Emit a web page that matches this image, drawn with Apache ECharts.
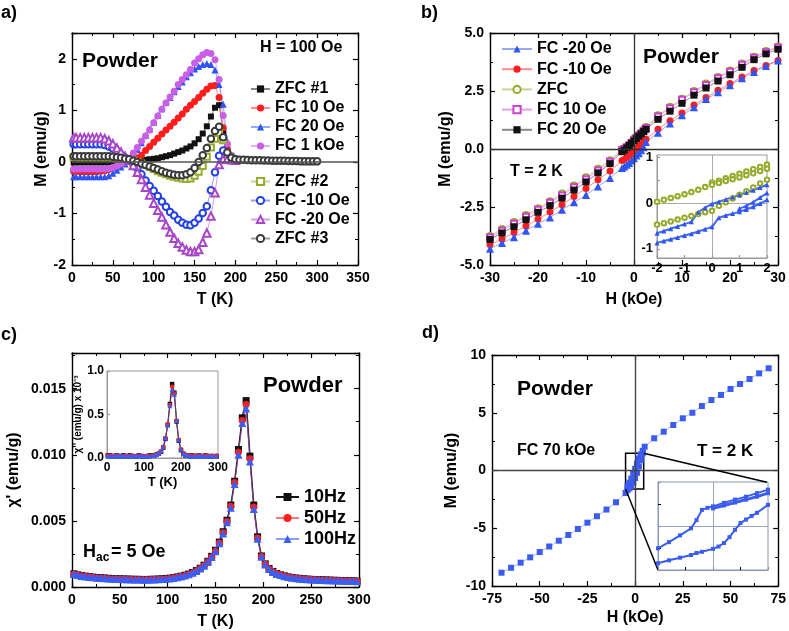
<!DOCTYPE html>
<html><head><meta charset="utf-8">
<script src="https://cdn.jsdelivr.net/npm/echarts@6/dist/echarts.min.js"></script>
<style>html,body{margin:0;padding:0;background:#fff}#c{width:789px;height:631px}</style>
</head><body><div id="c"></div>
<script>
// ---------- Panel a : M vs T ----------
const T_A = [2,5,10,15,20,25,30,35,40,45,50,55,60,65,70,75,80,85,90,95,100,105,110,115,120,125,130,135,140,145,150,155,160,165,170,175,180,185,190,195,200];
const A_ZFC1 = [-0.01,-0.01,-0.01,-0.01,-0.01,-0.01,-0.01,-0.01,-0.01,-0.01,-0.01,-0.01,0.00,0.00,0.01,0.02,0.02,0.03,0.04,0.05,0.06,0.07,0.09,0.11,0.13,0.16,0.19,0.22,0.26,0.30,0.36,0.44,0.55,0.69,0.88,1.05,1.10,0.60,0.28,0.12,0.06];
const A_FC10 = [-0.18,-0.18,-0.19,-0.19,-0.19,-0.19,-0.19,-0.18,-0.17,-0.15,-0.12,-0.08,-0.04,0.00,0.03,0.05,0.08,0.13,0.22,0.30,0.38,0.46,0.54,0.62,0.69,0.77,0.85,0.93,1.02,1.10,1.17,1.25,1.33,1.41,1.47,1.48,1.25,0.66,0.25,0.10,0.05];
const A_FC20 = [-0.29,-0.29,-0.29,-0.29,-0.29,-0.29,-0.29,-0.29,-0.29,-0.27,-0.22,-0.16,-0.10,-0.04,0.03,0.11,0.24,0.37,0.51,0.64,0.77,0.90,1.03,1.15,1.25,1.36,1.46,1.55,1.65,1.73,1.80,1.85,1.89,1.91,1.89,1.78,1.50,1.12,0.40,0.12,0.05];
const A_FC1k = [-0.14,-0.14,-0.14,-0.14,-0.14,-0.14,-0.14,-0.14,-0.14,-0.13,-0.11,-0.08,-0.04,0.00,0.07,0.17,0.28,0.40,0.50,0.62,0.76,0.89,1.02,1.14,1.26,1.37,1.50,1.60,1.69,1.79,1.92,2.00,2.08,2.12,2.10,1.98,1.60,0.90,0.35,0.12,0.05];
const A_ZFC2 = [0.09,0.09,0.09,0.09,0.09,0.09,0.09,0.09,0.09,0.09,0.08,0.07,0.06,0.05,0.04,0.02,0.00,-0.03,-0.06,-0.10,-0.14,-0.18,-0.21,-0.24,-0.27,-0.29,-0.31,-0.32,-0.33,-0.32,-0.27,-0.19,-0.08,0.10,0.28,0.45,0.56,0.42,0.14,0.06,0.04];
const A_FCm10 = [0.34,0.34,0.34,0.34,0.34,0.34,0.34,0.34,0.33,0.30,0.26,0.20,0.14,0.08,0.03,-0.04,-0.13,-0.24,-0.36,-0.47,-0.56,-0.66,-0.77,-0.87,-0.97,-1.04,-1.12,-1.18,-1.22,-1.23,-1.18,-1.10,-0.99,-0.86,-0.55,-0.20,0.12,0.22,0.10,0.05,0.03];
const A_FCm20 = [0.47,0.47,0.47,0.47,0.47,0.47,0.47,0.47,0.45,0.41,0.35,0.27,0.19,0.11,0.03,-0.07,-0.20,-0.34,-0.49,-0.64,-0.80,-0.94,-1.07,-1.22,-1.36,-1.48,-1.58,-1.65,-1.71,-1.74,-1.74,-1.70,-1.56,-1.38,-1.05,-0.60,-0.05,0.05,0.05,0.04,0.03];
const A_ZFC3 = [0.11,0.11,0.11,0.11,0.11,0.11,0.11,0.11,0.11,0.11,0.10,0.09,0.08,0.06,0.05,0.02,0.00,-0.03,-0.06,-0.09,-0.12,-0.15,-0.18,-0.21,-0.23,-0.25,-0.26,-0.26,-0.24,-0.20,-0.12,0.00,0.13,0.27,0.45,0.60,0.68,0.48,0.18,0.08,0.05];
const T_A_TAIL = [205,210,215,220,225,230,235,240,245,250,255,260,265,270,275,280,285,290,295,300];
const A_ZFC3_TAIL = [0.04,0.04,0.035,0.03,0.03,0.03,0.025,0.025,0.02,0.02,0.02,0.02,0.015,0.015,0.015,0.01,0.01,0.01,0.01,0.01];

// ---------- Panel b : M vs H loops ----------
const H_B = [-30,-27.5,-25,-22.5,-20,-17.5,-15,-12.5,-10,-7.5,-5,-2.5,-2,-1.5,-1,-0.5,0,0.5,1,1.5,2,2.5,5,7.5,10,12.5,15,17.5,20,22.5,25,27.5,30];
const B_FCm20 = [-4.30,-4.05,-3.80,-3.52,-3.22,-2.95,-2.62,-2.30,-1.98,-1.62,-1.25,-0.82,-0.75,-0.68,-0.60,-0.50,-0.40,-0.28,-0.18,-0.05,0.08,0.30,0.70,1.10,1.45,1.80,2.15,2.45,2.75,3.05,3.32,3.58,3.82];
const B_FCm10 = [-4.12,-3.88,-3.60,-3.32,-3.02,-2.72,-2.40,-2.05,-1.70,-1.33,-0.95,-0.50,-0.45,-0.37,-0.28,-0.20,-0.10,0.00,0.10,0.20,0.30,0.42,0.85,1.22,1.55,1.90,2.22,2.53,2.82,3.10,3.38,3.60,3.82];
const B_ZFC = [-3.75,-3.45,-3.15,-2.85,-2.55,-2.25,-1.92,-1.57,-1.22,-0.85,-0.48,0.00,0.04,0.12,0.20,0.30,0.45,0.52,0.62,0.72,0.84,0.95,1.45,1.82,2.17,2.50,2.82,3.10,3.38,3.68,3.98,4.22,4.42];
const B_FC10 = [-3.82,-3.52,-3.22,-2.92,-2.62,-2.32,-2.00,-1.65,-1.30,-0.93,-0.55,-0.05,0.00,0.08,0.16,0.26,0.38,0.47,0.57,0.67,0.78,0.90,1.40,1.76,2.12,2.45,2.76,3.05,3.33,3.63,3.93,4.17,4.38];
const B_FC20 = [-3.90,-3.62,-3.35,-3.05,-2.73,-2.44,-2.12,-1.77,-1.42,-1.03,-0.63,-0.12,-0.05,0.05,0.15,0.25,0.35,0.45,0.55,0.65,0.75,0.85,1.28,1.63,1.97,2.32,2.63,2.93,3.20,3.52,3.85,4.10,4.30];
// inset b
const H_IN = [-2,-1.75,-1.5,-1.25,-1,-0.75,-0.5,-0.25,0,0.25,0.5,0.75,1,1.25,1.5,1.75,2];
const H_IN_POS = [0,0.25,0.5,0.75,1,1.25,1.5,1.75,2];
const H_IN_MID = [1,1.25,1.5,1.75,2];
const BI_ZFC_TOP = [0.03,0.07,0.11,0.15,0.19,0.24,0.29,0.35,0.45,0.49,0.54,0.59,0.64,0.69,0.74,0.79,0.84];
const BI_ZFC_MID = [0.40,0.44,0.48,0.52,0.56,0.61,0.65,0.70,0.75];
const BI_ZFC_LOW = [-0.47,-0.44,-0.40,-0.36,-0.32,-0.28,-0.24,-0.20,-0.17,-0.06,0.02,0.10,0.18,0.26,0.34,0.43,0.51];
const BI_FC_TOP = [-0.66,-0.61,-0.56,-0.51,-0.46,-0.41,-0.20,-0.10,-0.02,0.03,0.08,0.13,0.18,0.23,0.28,0.34,0.40];
const BI_FC_MID = [-0.12,-0.06,0.02,0.12,0.22];
const BI_FC_LOW = [-0.87,-0.83,-0.79,-0.75,-0.71,-0.67,-0.62,-0.57,-0.52,-0.32,-0.27,-0.23,-0.19,-0.14,-0.08,-0.01,0.07];

// ---------- Panel c : chi' vs T ----------
const T_C = [2,6,10,14,18,22,26,30,34,38,42,46,50,54,58,62,66,70,74,78,82,86,90,94,98,102,106,110,114,118,122,126,130,134,138,142,146,150,154,158,162,166,170,174,178,182,186,190,194,198,202,206,210,214,218,222,226,230,234,238,242,246,250,254,258,262,266,270,274,278,282,286,290,294,298];
const C_10 = [0.00100,0.00092,0.00086,0.00082,0.00078,0.00075,0.00072,0.00070,0.00068,0.00066,
0.00064,0.00063,0.00062,0.00061,0.00060,0.00059,0.00058,0.00058,0.00057,0.00057,
0.00058,0.00059,0.00060,0.00062,0.00064,0.00067,0.00071,0.00076,0.00082,0.00089,
0.00098,0.00110,0.00124,0.00142,0.00165,0.00195,0.00232,0.00278,0.00340,0.00418,
0.00505,0.00620,0.00800,0.01040,0.01280,0.01410,0.00990,0.00620,0.00380,0.00235,
0.00175,0.00140,0.00118,0.00102,0.00092,0.00084,0.00077,0.00072,0.00068,0.00065,
0.00062,0.00060,0.00058,0.00056,0.00055,0.00054,0.00053,0.00052,0.00051,0.00050,
0.00049,0.00048,0.00047,0.00046,0.00045];
const C_50 = [0.00097,0.00089,0.00083,0.00079,0.00075,0.00072,0.00069,0.00067,0.00065,0.00063,
0.00061,0.00060,0.00059,0.00058,0.00057,0.00056,0.00055,0.00055,0.00054,0.00054,
0.00055,0.00056,0.00057,0.00059,0.00061,0.00064,0.00068,0.00073,0.00079,0.00086,
0.00095,0.00106,0.00120,0.00138,0.00160,0.00190,0.00226,0.00272,0.00332,0.00410,
0.00495,0.00610,0.00790,0.01020,0.01260,0.01380,0.00970,0.00605,0.00370,0.00230,
0.00172,0.00137,0.00115,0.00100,0.00090,0.00082,0.00075,0.00070,0.00066,0.00063,
0.00060,0.00058,0.00056,0.00054,0.00053,0.00052,0.00051,0.00050,0.00049,0.00048,
0.00047,0.00046,0.00045,0.00044,0.00043];
const C_100 = [0.00098,0.00090,0.00084,0.00080,0.00076,0.00073,0.00070,0.00068,0.00066,0.00064,
0.00062,0.00061,0.00060,0.00059,0.00058,0.00057,0.00056,0.00056,0.00055,0.00055,
0.00056,0.00057,0.00058,0.00060,0.00062,0.00065,0.00069,0.00074,0.00080,0.00087,
0.00096,0.00107,0.00121,0.00139,0.00161,0.00190,0.00226,0.00270,0.00330,0.00405,
0.00490,0.00600,0.00780,0.01000,0.01240,0.01350,0.00950,0.00590,0.00365,0.00228,
0.00170,0.00136,0.00114,0.00099,0.00090,0.00082,0.00075,0.00070,0.00066,0.00063,
0.00060,0.00058,0.00056,0.00055,0.00054,0.00053,0.00052,0.00051,0.00050,0.00049,
0.00048,0.00047,0.00046,0.00045,0.00044];
// inset c : chi'' (x 10^-3)
const T_CI = [2,8,14,20,26,32,38,44,50,56,62,68,74,80,86,92,98,104,110,116,122,128,134,140,146,152,158,164,170,176,182,188,194,200,206,212,218,224,230,236,242,248,254,260,266,272,278,284,290,296];
const CI_10 = [0.03,0.03,0.02,0.02,0.03,0.02,0.02,0.03,0.02,0.02,0.03,0.02,0.02,0.02,0.03,0.02,0.02,0.02,0.02,0.03,0.03,0.03,0.04,0.05,0.07,0.12,0.22,0.38,0.62,0.85,0.75,0.42,0.20,0.09,0.05,0.03,0.03,0.02,0.03,0.02,0.02,0.03,0.02,0.02,0.03,0.02,0.02,0.02,0.02,0.02];
const CI_50 = [0.03,0.02,0.03,0.02,0.02,0.03,0.02,0.02,0.03,0.02,0.02,0.03,0.02,0.02,0.02,0.03,0.02,0.02,0.03,0.02,0.03,0.03,0.04,0.05,0.08,0.13,0.23,0.39,0.61,0.82,0.74,0.43,0.21,0.10,0.05,0.04,0.03,0.03,0.02,0.03,0.03,0.02,0.03,0.02,0.03,0.03,0.02,0.03,0.02,0.03];
const CI_100 = [0.02,0.03,0.02,0.02,0.03,0.02,0.03,0.02,0.02,0.03,0.02,0.02,0.03,0.02,0.02,0.02,0.03,0.02,0.02,0.02,0.03,0.03,0.04,0.06,0.08,0.13,0.23,0.38,0.60,0.79,0.73,0.43,0.21,0.10,0.05,0.04,0.03,0.02,0.02,0.02,0.02,0.03,0.02,0.02,0.02,0.02,0.03,0.02,0.02,0.02];

// ---------- Panel d : FC 70 kOe loop ----------
const H_D = [-70,-65,-60,-55,-50,-45,-40,-35,-30,-25,-20,-15,-10,-5];
const M_D = [-8.85,-8.42,-7.98,-7.52,-7.06,-6.58,-6.08,-5.58,-5.06,-4.52,-3.96,-3.38,-2.75,-1.95];
const H_DP = [5,10,15,20,25,30,35,40,45,50,55,60,65,70];
const M_DP = [2.06,2.79,3.36,3.94,4.52,5.00,5.58,6.10,6.54,7.06,7.49,7.92,8.41,8.85];
const H_DC = [-4,-3,-2,-1,0,1,2,3,4];
const M_DC_A = [-1.35,-1.05,-0.70,-0.30,0.15,0.60,1.05,1.40,1.70];
const M_DC_B = [-1.70,-1.55,-1.35,-1.05,-0.65,-0.20,0.35,0.90,1.50];
// inset d
const DI_H_UP = [5,4,3,2,1,0,-0.5,-1,-1.5,-2,-3,-4,-5];
const DI_M_UP = [1.24,1.12,1.00,0.90,0.79,0.67,0.62,0.55,0.20,-0.08,-0.32,-0.55,-0.76];
const DI_H_UP2 = [0,1,2,3,4,5];
const DI_M_UP2 = [0.60,0.70,0.80,0.90,1.00,1.12];
const DI_H_LO = [-5,-4,-3,-2,-1.5,-1,0,0.5,1,1.5,2,2.5,3,3.5,4,5];
const DI_M_LO = [-1.27,-1.17,-1.08,-0.99,-0.92,-0.88,-0.78,-0.70,-0.58,-0.38,-0.13,0.10,0.22,0.34,0.45,0.72];

// ---------- helpers ----------
const FONT = '"Liberation Sans", Arial, Helvetica, sans-serif';
const zip = (xs, ys) => xs.map((x, i) => [x, ys[i]]);
function ax(grid, min, max, interval, pos, o) {
  o = o || {};
  const showLbl = !!o.fmt;
  return {
    type: 'value', gridIndex: grid, min, max, interval, position: pos,
    axisLine: {show: true, onZero: false, lineStyle: {color: o.lineColor || '#000', width: o.lineWidth || 1.4}},
    axisTick: Object.assign({show: true, inside: true, length: o.tickLen || 5, lineStyle: {color: o.lineColor || '#000', width: 1.2}}, o.tickCustom ? {customValues: o.tickCustom} : {}),
    minorTick: {show: o.minor !== false, splitNumber: 2, length: 3, lineStyle: {color: '#000', width: 1}},
    splitLine: {show: false},
    axisLabel: showLbl ? Object.assign({show: true, fontFamily: FONT, fontWeight: 'bold', fontSize: o.fs || 14, color: '#000', margin: o.margin || 6, formatter: o.fmt, showMaxLabel: o.noMax ? false : null}, o.lblCustom ? {customValues: o.lblCustom} : {}) : {show: false},
    name: o.name || '', nameLocation: 'middle', nameGap: o.nameGap || 25,
    nameTextStyle: {fontFamily: FONT, fontWeight: 'bold', fontSize: o.nfs || 16, color: '#000'},
    z: o.z || 0
  };
}
function ser(name, xi, data, sym, size, color, o) {
  o = o || {};
  const empty = sym.indexOf('empty') === 0;
  return {
    type: 'line', name, xAxisIndex: xi, yAxisIndex: xi, data,
    symbol: sym, symbolSize: size, showSymbol: true, showAllSymbol: true,
    itemStyle: Object.assign({color}, empty ? {borderWidth: o.bw || 1.3} : {}),
    lineStyle: {color: o.lineColor || color, width: o.lw || 1, opacity: o.lop != null ? o.lop : 0.5},
    emphasis: {disabled: true}, z: o.z || 2, clip: false, silent: true
  };
}
const intF = v => String(v);
const f1 = v => v.toFixed(1);
const f3 = v => v.toFixed(3);

// axis index map: 0/1 a, 2/3 b, 4 b-inset, 5/6 c, 7 c-inset, 8/9 d, 10 d-inset
const xAxis = [
  ax(0, 0, 350, 50, 'bottom', {fmt: intF, name: 'T (K)', nameGap: 27}),
  ax(0, 0, 350, 50, 'top'),
  ax(1, -30, 30, 10, 'bottom', {fmt: intF, name: 'H (kOe)', nameGap: 27}),
  ax(1, -30, 30, 10, 'top'),
  ax(2, -2, 2, 1, 'bottom', {fmt: intF, fs: 13, margin: 4, lineColor: '#999', lineWidth: 1, tickLen: 3, minor: false, z: 5}),
  ax(3, 0, 300, 50, 'bottom', {fmt: intF, name: 'T (K)', nameGap: 27}),
  ax(3, 0, 300, 50, 'top'),
  ax(4, 0, 300, 100, 'bottom', {fmt: intF, fs: 12, margin: 4, lineColor: '#999', lineWidth: 1, tickLen: 3, minor: false, z: 5, name: 'T (K)', nameGap: 18, nfs: 13}),
  ax(5, -75, 75, 25, 'bottom', {fmt: intF, name: 'H (kOe)', nameGap: 24}),
  ax(5, -75, 75, 25, 'top'),
  ax(6, -5, 5, 5, 'bottom', {lineColor: '#8a95b8', lineWidth: 1, tickLen: 3, z: 5})
];
const yAxis = [
  ax(0, -2, 2.5, 1, 'left', {fmt: intF, noMax: true, name: 'M (emu/g)', nameGap: 20}),
  ax(0, -2, 2.5, 1, 'right'),
  ax(1, -5, 5, 2.5, 'left', {fmt: f1, name: 'M (emu/g)', nameGap: 36}),
  ax(1, -5, 5, 2.5, 'right'),
  ax(2, -1.2, 1.05, null, 'left', {fmt: intF, fs: 13, margin: 4, lineColor: '#999', lineWidth: 1, tickLen: 3, minor: false, z: 5, lblCustom: [-1, 0, 1], tickCustom: [-1, -0.5, 0, 0.5, 1]}),
  ax(3, 0, 0.0177, 0.005, 'left', {fmt: f3, noMax: true, name: "\u03c7' (emu/g)", nameGap: 50}),
  ax(3, 0, 0.0177, 0.005, 'right'),
  ax(4, 0, 1.0, 0.5, 'left', {fmt: f1, fs: 12, margin: 3, lineColor: '#999', lineWidth: 1, tickLen: 3, minor: false, z: 5, name: "\u03c7'' (emu/g) x 10\u207b\u00b3", nameGap: 20, nfs: 10}),
  ax(5, -10, 10, 5, 'left', {fmt: intF, name: 'M (emu/g)', nameGap: 32}),
  ax(5, -10, 10, 5, 'right'),
  ax(6, -1.5, 1.5, 1.5, 'left', {lineColor: '#8a95b8', lineWidth: 1, tickLen: 3, z: 5})
];

const zeroLine = (xi, arr, color, w, z) => ({
  type: 'line', xAxisIndex: xi, yAxisIndex: xi, data: [], z: z || 1, silent: true,
  markLine: {silent: true, symbol: 'none', label: {show: false}, animation: false,
    lineStyle: {color: color || '#444', width: w || 1.4, type: 'solid'}, data: arr}
});

const C_BLK = '#111111', C_RED = '#ff1c1c', C_BLU = '#2f55f2', C_MAG = '#c85fe6',
      C_OLV = '#97aa2a', C_OBL = '#2340e6', C_PUR = '#a845c8', C_GRY = '#3a3a3a',
      C_BMAG = '#d040d0', C_DBL = '#3a5cf0';

const series = [
  // panel a
  zeroLine(0, [{yAxis: 0}], '#555', 1.5),
  ser('ZFC #1', 0, zip(T_A, A_ZFC1), 'rect', 6, C_BLK),
  ser('FC 10 Oe', 0, zip(T_A, A_FC10), 'circle', 7, C_RED),
  ser('FC 20 Oe', 0, zip(T_A, A_FC20), 'triangle', 7, C_BLU),
  ser('FC 1 kOe', 0, zip(T_A, A_FC1k), 'circle', 7, C_MAG),
  ser('ZFC #2', 0, zip(T_A, A_ZFC2), 'emptyRect', 6, C_OLV),
  ser('FC -10 Oe', 0, zip(T_A, A_FCm10), 'emptyCircle', 6.5, C_OBL),
  ser('FC -20 Oe', 0, zip(T_A, A_FCm20), 'emptyTriangle', 7.5, C_PUR),
  ser('ZFC #3', 0, zip(T_A, A_ZFC3).concat(zip(T_A_TAIL, A_ZFC3_TAIL)), 'emptyCircle', 6.5, C_GRY),
  // panel b
  zeroLine(2, [{yAxis: 0}, {xAxis: 0}], '#333', 1.3),
  ser('ZFC', 2, zip(H_B, B_ZFC), 'emptyCircle', 6, C_OLV),
  ser('FC 10 Oe ', 2, zip(H_B, B_FC10), 'emptyRect', 6, C_BMAG),
  ser('FC -10 Oe ', 2, zip(H_B, B_FCm10), 'circle', 7, C_RED),
  ser('FC -20 Oe ', 2, zip(H_B, B_FCm20), 'triangle', 8, C_BLU),
  ser('FC 20 Oe ', 2, zip(H_B, B_FC20), 'rect', 7, C_BLK),
  // inset b
  zeroLine(4, [{yAxis: 0}, {xAxis: 0}], '#aaa', 1, 6),
  ser('', 4, zip(H_IN, BI_ZFC_TOP), 'emptyCircle', 4.5, C_OLV, {z: 7, bw: 1}),
  ser('', 4, zip(H_IN_POS, BI_ZFC_MID), 'emptyCircle', 4.5, C_OLV, {z: 7, bw: 1}),
  ser('', 4, zip(H_IN, BI_ZFC_LOW), 'emptyCircle', 4.5, C_OLV, {z: 7, bw: 1}),
  ser('', 4, zip(H_IN, BI_FC_TOP), 'triangle', 5, C_BLU, {z: 7, lw: 2, lop: 0.9}),
  ser('', 4, zip(H_IN_MID, BI_FC_MID), 'triangle', 5, C_BLU, {z: 7, lw: 2, lop: 0.9}),
  ser('', 4, zip(H_IN, BI_FC_LOW), 'triangle', 5, C_BLU, {z: 7, lw: 2, lop: 0.9}),
  // panel c
  ser('10Hz', 5, zip(T_C, C_10), 'rect', 7, C_BLK, {lw: 1.5, lop: 1}),
  ser('50Hz', 5, zip(T_C, C_50), 'circle', 7, C_RED, {lw: 1, lop: 0.6}),
  ser('100Hz', 5, zip(T_C, C_100), 'triangle', 8, '#3d5ef2', {lw: 1, lop: 0.6}),
  // inset c
  ser('', 7, zip(T_CI, CI_10), 'rect', 4.5, C_BLK, {z: 7, lw: 1.2, lop: 1}),
  ser('', 7, zip(T_CI, CI_50), 'circle', 4.5, C_RED, {z: 7}),
  ser('', 7, zip(T_CI, CI_100), 'triangle', 5, '#3d5ef2', {z: 7}),
  // panel d
  zeroLine(8, [{yAxis: 0}, {xAxis: 0}], '#444', 1.4),
  ser('', 8, zip(H_D, M_D).concat(zip(H_DC, M_DC_A), zip(H_DP, M_DP)), 'rect', 6, C_DBL, {lop: 0.45}),
  ser('', 8, zip(H_DC, M_DC_B), 'rect', 6, C_DBL, {lop: 0.45}),
  {
    type: 'line', xAxisIndex: 8, yAxisIndex: 8, data: [], z: 4, silent: true,
    markArea: {silent: true, itemStyle: {color: 'rgba(0,0,0,0)', borderColor: '#000', borderWidth: 1.5},
      data: [[{coord: [-5, 1.5]}, {coord: [4.5, -1.6]}]]},
    markLine: {silent: true, symbol: 'none', label: {show: false}, lineStyle: {color: '#000', width: 1.5, type: 'solid'},
      data: [[{coord: [4.5, 1.5]}, {coord: [69.1, -1.02]}], [{coord: [-5, -1.6]}, {coord: [12, -8.61]}]]}
  },
  // inset d
  zeroLine(10, [{yAxis: 0}, {xAxis: 0}], '#9aa3c4', 1, 6),
  ser('', 10, zip(DI_H_UP, DI_M_UP), 'rect', 4, C_DBL, {z: 7, lw: 2, lop: 1}),
  ser('', 10, zip(DI_H_UP2, DI_M_UP2), 'rect', 4, C_DBL, {z: 7, lw: 3, lop: 1}),
  ser('', 10, zip(DI_H_LO, DI_M_LO), 'rect', 4, C_DBL, {z: 7, lw: 2, lop: 1})
];

const legText = {fontFamily: FONT, fontWeight: 'bold', fontSize: 16, color: '#000'};
const legend = [
  {data: ['ZFC #1', 'FC 10 Oe', 'FC 20 Oe', 'FC 1 kOe'], orient: 'vertical', left: 250, top: 81, itemWidth: 19, itemHeight: 9, itemGap: 3, padding: 0, selectedMode: false, textStyle: legText},
  {data: ['ZFC #2', 'FC -10 Oe', 'FC -20 Oe', 'ZFC #3'], orient: 'vertical', left: 250, top: 173.5, itemWidth: 19, itemHeight: 9, itemGap: 3, padding: 0, selectedMode: false, textStyle: legText},
  {data: ['FC -20 Oe ', 'FC -10 Oe ', 'ZFC', 'FC 10 Oe ', 'FC 20 Oe '], orient: 'vertical', left: 501, top: 41, itemWidth: 30, itemHeight: 9, itemGap: 4.2, padding: 0, selectedMode: false, textStyle: legText},
  {data: ['10Hz', '50Hz', '100Hz'], orient: 'vertical', left: 275, top: 488, itemWidth: 23, itemHeight: 10, itemGap: 3, padding: 0, selectedMode: false, textStyle: Object.assign({}, legText, {fontSize: 18})}
];

function txt(x, y, text, size) {
  return {type: 'text', x, y, z: 100, silent: true,
    style: {text, fontFamily: FONT, fontWeight: 'bold', fontSize: size, fill: '#000', align: 'left', verticalAlign: 'middle'}};
}
const graphic = [
  txt(1, 13, 'a)', 18), txt(82, 61, 'Powder', 21), txt(260, 48, 'H = 100 Oe', 16),
  txt(421, 13, 'b)', 18), txt(643, 57, 'Powder', 21), txt(510, 172, 'T = 2 K', 16),
  txt(1, 335, 'c)', 18), txt(263, 386, 'Powder', 22), txt(83, 552, 'H', 18), txt(96, 558, 'ac', 12), txt(111, 552, '= 5 Oe', 18),
  txt(422, 333, 'd)', 18), txt(517, 389, 'Powder', 21), txt(517, 451, 'FC 70 kOe', 16), txt(697, 451, 'T = 2 K', 17)
];

const grid = [
  {left: 72, top: 33, width: 286, height: 232},
  {left: 490, top: 33, width: 288, height: 232},
  {left: 657, top: 155, width: 110, height: 103, show: true, backgroundColor: '#fff', borderColor: '#999', borderWidth: 1, z: 3},
  {left: 72, top: 353, width: 287, height: 234},
  {left: 107, top: 371, width: 111, height: 87, show: true, backgroundColor: '#fff', borderColor: '#999', borderWidth: 1, z: 3},
  {left: 492, top: 355, width: 287, height: 231},
  {left: 658, top: 482, width: 110, height: 88, show: true, backgroundColor: '#fff', borderColor: '#8a95b8', borderWidth: 1, z: 3}
];

const chart = echarts.init(document.getElementById('c'), null, {renderer: 'canvas'});
chart.setOption({animation: false, backgroundColor: '#fff', grid, xAxis, yAxis, series, legend, graphic});
</script>
</body></html>
